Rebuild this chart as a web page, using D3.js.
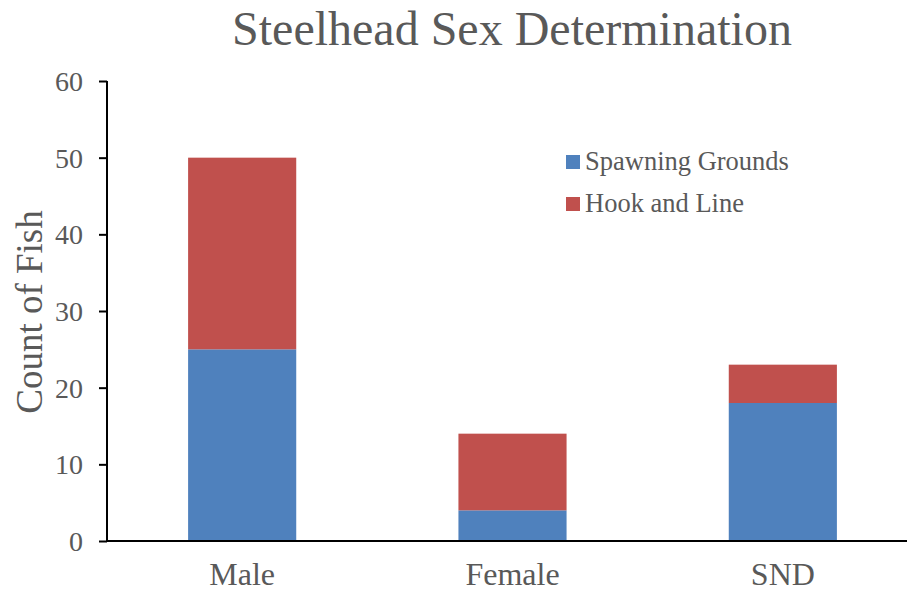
<!DOCTYPE html>
<html>
<head>
<meta charset="utf-8">
<script src="https://cdn.jsdelivr.net/npm/d3@7"></script>
<style>
  body { margin: 0; background: #fff; }
  svg { font-family: "Liberation Serif", "Times New Roman", serif; }
</style>
</head>
<body>
<svg id="chart" width="907" height="593"></svg>
<script>
// data
var categories = ["Male", "Female", "SND"];
var seriesNames = ["Spawning Grounds", "Hook and Line"];
var spawning = [25, 4, 18];
var hookLine = [25, 10, 5];
var yTicks = [0, 10, 20, 30, 40, 50, 60];
var colors = ["#4F81BD", "#C0504D"];

var svg = d3.select("#chart");
var textColor = "#595959";
var serif = "'Liberation Serif', 'Times New Roman', serif";

var x = d3.scaleBand()
    .domain(categories)
    .range([107, 918])
    .paddingInner(0.6)
    .paddingOuter(0.3);

var y = d3.scaleLinear()
    .domain([0, 60])
    .range([541, 81]);

var rows = categories.map(function (c, i) {
    return { cat: c, "Spawning Grounds": spawning[i], "Hook and Line": hookLine[i] };
});
var stacked = d3.stack().keys(seriesNames)(rows);

// bars
svg.selectAll("g.series")
    .data(stacked)
    .enter()
    .append("g")
    .attr("class", "series")
    .attr("fill", function (d, i) { return colors[i]; })
    .selectAll("rect")
    .data(function (d) { return d; })
    .enter()
    .append("rect")
    .attr("x", function (d) { return x(d.data.cat); })
    .attr("width", x.bandwidth())
    .attr("y", function (d) { return y(d[1]); })
    .attr("height", function (d) { return y(d[0]) - y(d[1]); });

// y axis
var yAxis = svg.append("g")
    .attr("transform", "translate(107,0)")
    .call(d3.axisLeft(y).tickValues(yTicks).tickSize(8).tickPadding(16));
yAxis.attr("font-family", serif).attr("font-size", 28);
yAxis.select(".domain").attr("stroke", "#000").attr("stroke-width", 2)
    .attr("d", "M0," + y(60) + "V" + y(0));
yAxis.selectAll(".tick line").attr("stroke", "#000").attr("stroke-width", 2);
yAxis.selectAll(".tick text")
    .attr("fill", textColor)
    .attr("dy", "0.34em");

// x axis
var xAxis = svg.append("g")
    .attr("transform", "translate(0,541)")
    .call(d3.axisBottom(x).tickSize(0));
xAxis.attr("font-family", serif).attr("font-size", 32);
xAxis.select(".domain").attr("stroke", "#000").attr("stroke-width", 2)
    .attr("d", "M106,0H907");
xAxis.selectAll(".tick text")
    .attr("fill", textColor)
    .attr("y", 44)
    .attr("dy", null);

// title
svg.append("text")
    .attr("x", 512)
    .attr("y", 45)
    .attr("text-anchor", "middle")
    .attr("fill", textColor)
    .attr("font-family", serif)
    .attr("font-size", 48)
    .text("Steelhead Sex Determination");

// y title
svg.append("text")
    .attr("transform", "translate(42,312) rotate(-90)")
    .attr("text-anchor", "middle")
    .attr("fill", textColor)
    .attr("font-family", serif)
    .attr("font-size", 37)
    .text("Count of Fish");

// legend
var legend = svg.append("g").attr("transform", "translate(566,155)");
var item = legend.selectAll("g")
    .data(seriesNames)
    .enter()
    .append("g")
    .attr("transform", function (d, i) { return "translate(0," + (i * 42) + ")"; });
item.append("rect")
    .attr("width", 14)
    .attr("height", 14)
    .attr("fill", function (d, i) { return colors[i]; });
item.append("text")
    .attr("x", 19)
    .attr("y", 15)
    .attr("fill", textColor)
    .attr("font-family", serif)
    .attr("font-size", 26.5)
    .text(function (d) { return d; });
</script>
</body>
</html>
